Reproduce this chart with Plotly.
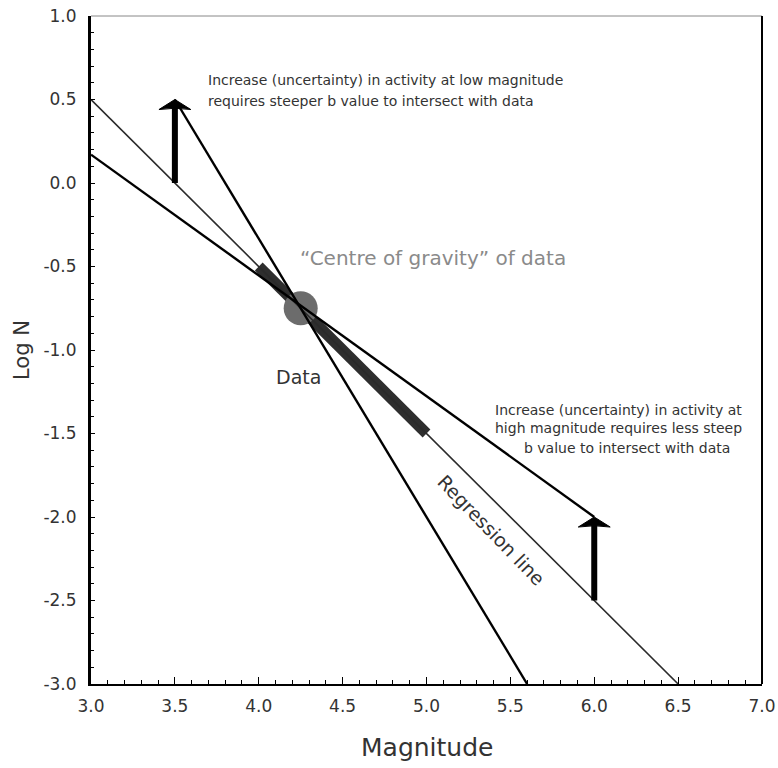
import plotly.graph_objects as go

# ---- data ----
regression_x = [3.0, 6.5]
regression_y = [0.5, -3.0]
shallow_x = [3.0, 6.0]
shallow_y = [0.17, -2.0]
steep_x = [3.5, 5.6]
steep_y = [0.5, -3.0]
data_x = [4.0, 5.0]
data_y = [-0.5, -1.5]
centre_x = [4.25]
centre_y = [-0.75]
arrow_x = [3.5, 6.0]
arrow_base = [0.0, -2.5]
arrow_tip = [0.5, -2.0]

x_ticks = [3.0, 3.5, 4.0, 4.5, 5.0, 5.5, 6.0, 6.5, 7.0]
y_ticks = [1.0, 0.5, 0.0, -0.5, -1.0, -1.5, -2.0, -2.5, -3.0]

FONT = "DejaVu Sans, Verdana, sans-serif"
TXT = "#333333"

fig = go.Figure()

# data bar
fig.add_trace(go.Scatter(x=data_x, y=data_y, mode="lines",
                         line=dict(color="#2e2e2e", width=11), hoverinfo="skip"))
# centre of gravity
fig.add_trace(go.Scatter(x=centre_x, y=centre_y, mode="markers",
                         marker=dict(size=34, color="#6c6c6c"), hoverinfo="skip"))
# regression line
fig.add_trace(go.Scatter(x=regression_x, y=regression_y, mode="lines",
                         line=dict(color="#2a2a2a", width=1.6), hoverinfo="skip"))
# shallow and steep b lines
fig.add_trace(go.Scatter(x=shallow_x, y=shallow_y, mode="lines",
                         line=dict(color="black", width=2.4), hoverinfo="skip"))
fig.add_trace(go.Scatter(x=steep_x, y=steep_y, mode="lines",
                         line=dict(color="black", width=2.4), hoverinfo="skip"))

# arrows (shaft + head)
head_half_w = 0.095
head_h = 0.06
for ax_, b, t in zip(arrow_x, arrow_base, arrow_tip):
    fig.add_trace(go.Scatter(x=[ax_, ax_], y=[b, t - head_h * 0.8], mode="lines",
                             line=dict(color="black", width=6), hoverinfo="skip"))
    path = (f"M {ax_ - head_half_w},{t - head_h} L {ax_},{t} "
            f"L {ax_ + head_half_w},{t - head_h} Q {ax_},{t - head_h * 0.75} "
            f"{ax_ - head_half_w},{t - head_h} Z")
    fig.add_shape(type="path", xref="x", yref="y", path=path,
                  fillcolor="black", line=dict(color="black", width=1))

# borders top/right
fig.add_shape(type="line", xref="paper", yref="paper", x0=0, x1=1, y0=1, y1=1,
              line=dict(color="#888888", width=1))
fig.add_shape(type="line", xref="paper", yref="paper", x0=1, x1=1, y0=0, y1=1,
              line=dict(color="black", width=2))

# annotations
def txt(x, y, s, size, color=TXT, anchor="left", angle=0):
    fig.add_annotation(x=x, y=y, xref="x", yref="y", text=s, showarrow=False,
                       xanchor=anchor, yanchor="middle", textangle=angle,
                       font=dict(family=FONT, size=size, color=color))

txt(3.685, 0.617, "Increase (uncertainty) in activity at low magnitude", 14)
txt(3.685, 0.491, "requires steeper b value to intersect with data", 14)
txt(4.234, -0.449, "\u201cCentre of gravity\u201d of data", 20, color="#8a8a8a")
txt(4.237, -1.162, "Data", 19, anchor="center")
txt(5.396, -1.359, "Increase (uncertainty) in activity at", 14)
txt(5.396, -1.467, "high magnitude requires less steep", 14)
txt(5.569, -1.587, "b value to intersect with data", 14)
txt(5.385, -2.08, "Regression line", 19, anchor="center", angle=46)

# axis titles
fig.add_annotation(x=0.5, y=-0.0958, xref="paper", yref="paper", text="Magnitude",
                   showarrow=False, xanchor="center", yanchor="middle",
                   font=dict(family=FONT, size=25, color=TXT))
fig.add_annotation(x=-0.1028, y=0.5, xref="paper", yref="paper", text="Log N",
                   showarrow=False, xanchor="center", yanchor="middle", textangle=-90,
                   font=dict(family=FONT, size=21, color=TXT))

fig.update_layout(
    width=778, height=768,
    margin=dict(l=91, r=16, t=16, b=84),
    paper_bgcolor="white", plot_bgcolor="white",
    showlegend=False,
    font=dict(family=FONT, color=TXT),
    xaxis=dict(range=[3.0, 7.0], tickvals=x_ticks,
               ticktext=[f"{v:.1f}" for v in x_ticks],
               showgrid=False, zeroline=False, automargin=False,
               showline=True, linecolor="black", linewidth=2,
               ticks="inside", ticklen=7, tickcolor="black", tickwidth=1,
               minor=dict(dtick=0.1, ticks="inside", ticklen=4, tickcolor="black"),
               tickfont=dict(family=FONT, size=17, color=TXT),
               ticklabelstandoff=6, ticklabeloverflow="allow"),
    yaxis=dict(range=[-3.0, 1.0], tickvals=y_ticks,
               ticktext=[f"{v:.1f}" for v in y_ticks],
               showgrid=False, zeroline=False, automargin=False,
               showline=True, linecolor="black", linewidth=3,
               ticks="inside", ticklen=4, tickcolor="black", tickwidth=1,
               minor=dict(dtick=0.1, ticks="inside", ticklen=3, tickcolor="black"),
               tickfont=dict(family=FONT, size=17, color=TXT),
               ticklabelstandoff=8, ticklabeloverflow="allow"),
)

fig.write_html("out.html",
               config={"displayModeBar": False},
               post_script="document.body.style.margin='0';document.body.style.overflow='hidden';")
